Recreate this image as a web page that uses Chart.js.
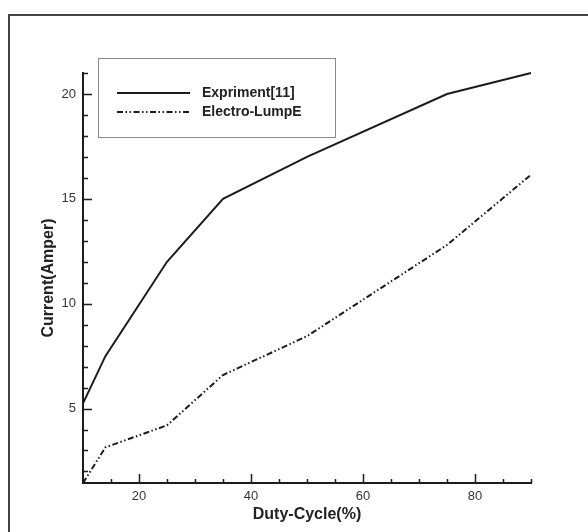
<!DOCTYPE html>
<html>
<head>
<meta charset="utf-8">
<script src="https://cdn.jsdelivr.net/npm/chart.js@4.4.1/dist/chart.umd.min.js"></script>
<style>
  html, body { margin: 0; padding: 0; background: #fff; }
  #wrap { position: relative; width: 588px; height: 532px; }
</style>
</head>
<body>
<div id="wrap"><canvas id="chart" width="588" height="532"></canvas></div>
<script>
/* =============================
   DATA
============================= */
const dutyExp = [10, 14, 25, 35, 50, 75, 90];
const currentExp = [5.25, 7.5, 12, 15, 17, 20, 21];

const dutyLump = [10, 14, 25, 35, 50, 75, 90];
const currentLump = [1.45, 3.15, 4.2, 6.6, 8.45, 12.8, 16.15];

const xTickLabels = [20, 40, 60, 80];
const yTickLabels = [5, 10, 15, 20];

const FONT = "'Liberation Sans', Arial, sans-serif";
const INK = "#1c1c1c";

function toPoints(xs, ys) {
  return xs.map((x, i) => ({ x: x, y: ys[i] }));
}

/* =============================
   PLUGIN: frame, inward ticks, legend
============================= */
const decorations = {
  id: "decorations",
  afterDraw(chart) {
    const ctx = chart.ctx;
    const xs = chart.scales.x;
    const ys = chart.scales.y;
    const area = chart.chartArea;

    ctx.save();

    // outer frame (runs off the right and bottom edges)
    ctx.strokeStyle = "#444";
    ctx.lineWidth = 2;
    ctx.strokeRect(9, 15, 700, 700);

    // ticks pointing into the plot
    ctx.strokeStyle = INK;
    ctx.lineWidth = 1.5;
    ctx.beginPath();
    for (let v = xs.min; v <= xs.max + 0.001; v += 5) {
      const px = Math.round(xs.getPixelForValue(v)) + 0.5;
      const len = xTickLabels.includes(v) ? 9 : 4;
      ctx.moveTo(px, area.bottom);
      ctx.lineTo(px, area.bottom - len);
    }
    for (let v = Math.ceil(ys.min); v <= ys.max + 0.001; v += 1) {
      const py = Math.round(ys.getPixelForValue(v)) + 0.5;
      const len = yTickLabels.includes(v) ? 9 : 5;
      ctx.moveTo(area.left, py);
      ctx.lineTo(area.left + len, py);
    }
    ctx.stroke();

    // legend box
    ctx.strokeStyle = "#8a8a8a";
    ctx.lineWidth = 1;
    ctx.strokeRect(98.5, 58.5, 237, 79);

    const rows = [93, 112];
    chart.data.datasets.forEach((ds, i) => {
      const y = rows[i];
      ctx.strokeStyle = ds.borderColor;
      ctx.lineWidth = ds.borderWidth;
      ctx.setLineDash(ds.borderDash || []);
      ctx.beginPath();
      ctx.moveTo(117, y);
      ctx.lineTo(190, y);
      ctx.stroke();
      ctx.setLineDash([]);

      ctx.fillStyle = "#222";
      ctx.font = "bold 14px " + FONT;
      ctx.textBaseline = "middle";
      ctx.textAlign = "left";
      ctx.fillText(ds.label, 202, y);
    });

    ctx.restore();
  }
};

/* =============================
   CHART
============================= */
const chart = new Chart(document.getElementById("chart"), {
  type: "line",
  data: {
    datasets: [
      {
        label: "Expriment[11]",
        data: toPoints(dutyExp, currentExp),
        borderColor: INK,
        borderWidth: 2,
        pointRadius: 0,
        tension: 0,
        clip: 4
      },
      {
        label: "Electro-LumpE",
        data: toPoints(dutyLump, currentLump),
        borderColor: INK,
        borderWidth: 2,
        borderDash: [6, 2.5, 1.5, 2.5, 1.5, 2.5],
        pointRadius: 0,
        tension: 0,
        clip: 4
      }
    ]
  },
  options: {
    responsive: false,
    animation: false,
    layout: { padding: { left: 30, right: 57, top: 73, bottom: 0 } },
    plugins: {
      legend: { display: false },
      tooltip: { enabled: false }
    },
    scales: {
      x: {
        type: "linear",
        min: 10,
        max: 90,
        afterBuildTicks: s => { s.ticks = xTickLabels.map(v => ({ value: v })); },
        afterFit: s => { s.height = 49; },
        grid: { display: false, drawTicks: false },
        border: { display: true, color: INK, width: 2 },
        ticks: {
          padding: 6,
          color: "#333",
          font: { family: FONT, size: 13 }
        },
        title: {
          display: true,
          text: "Duty-Cycle(%)",
          color: "#222",
          padding: { top: 0, bottom: 8 },
          font: { family: FONT, size: 16, weight: "bold" }
        }
      },
      y: {
        type: "linear",
        min: 1.45,
        max: 21,
        afterBuildTicks: s => { s.ticks = yTickLabels.map(v => ({ value: v })); },
        afterFit: s => { s.width = 53; },
        grid: { display: false, drawTicks: false },
        border: { display: true, color: INK, width: 2 },
        ticks: {
          padding: 7,
          color: "#333",
          font: { family: FONT, size: 13 }
        },
        title: {
          display: true,
          text: "Current(Amper)",
          color: "#222",
          padding: { top: 9, bottom: 0 },
          font: { family: FONT, size: 16, weight: "bold" }
        }
      }
    }
  },
  plugins: [decorations]
});
</script>
</body>
</html>
